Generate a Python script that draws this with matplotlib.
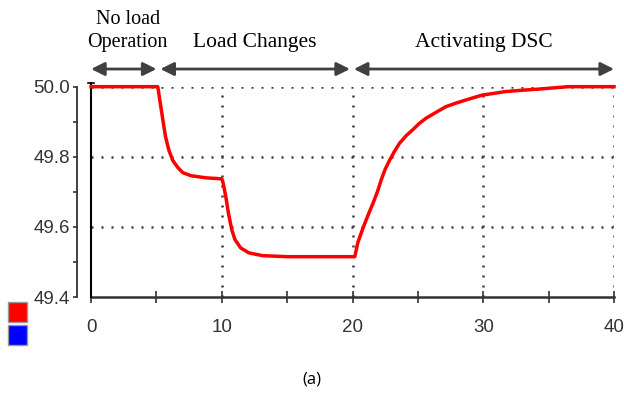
import matplotlib.pyplot as plt

# frequency response (time in s, frequency in Hz)
t = [0, 5.1, 5.29, 5.49, 5.69, 5.94, 6.24, 6.62, 7.0, 7.64, 8.78, 10.0,
     10.1, 10.3, 10.5, 10.76, 11.0, 11.44, 12.07, 13.1, 15.0, 20.17,
     20.4, 20.8, 21.2, 21.57, 21.9, 22.2, 22.5, 22.83, 23.2, 23.6, 24.1, 24.6,
     25.1, 25.62, 26.3, 27.14, 27.9, 28.66, 29.92, 31.7, 33.0, 34.2, 36.5, 40.0]
f = [50.0, 50.0, 49.953, 49.905, 49.858, 49.82, 49.79, 49.77, 49.755, 49.746, 49.74, 49.737,
     49.725, 49.687, 49.64, 49.592, 49.564, 49.54, 49.526, 49.518, 49.515, 49.515,
     49.555, 49.597, 49.635, 49.668, 49.70, 49.735, 49.765, 49.79, 49.815, 49.839, 49.86, 49.877,
     49.895, 49.91, 49.925, 49.943, 49.953, 49.962, 49.976, 49.986, 49.99, 49.993, 50.0, 50.0]

y_ticks = [49.4, 49.6, 49.8, 50.0]
x_ticks = [0, 10, 20, 30, 40]
stages = ["No load\nOperation", "Load Changes", "Activating DSC"]
stage_bounds = [(0, 5), (5.3, 19.8), (20.1, 40)]

fig = plt.figure(figsize=(6.24, 4.0), dpi=100)
ax = fig.add_axes([0.146, 0.2575, 0.838, 0.5258])

ax.plot(t, f, color="red", lw=2.5, clip_on=False, zorder=5)

ax.set_xlim(0, 40)
ax.set_ylim(49.4, 50.0)

# dotted grid
for gx in [10, 20, 30, 40]:
    ax.axvline(gx, color="#3a3a3a", lw=1.8, ls=(0, (0.8, 3.2)), zorder=1)
for gy in [49.6, 49.8, 50.0]:
    ax.axhline(gy, color="#3a3a3a", lw=1.8, ls=(0, (0.8, 3.2)), zorder=1)

# main vertical axis line with a small cap on top
ax.plot([0, 0], [49.4, 50.01], color="black", lw=1.5, clip_on=False, zorder=4)
ax.plot([-0.25, 0.25], [50.01, 50.01], color="black", lw=1.2, clip_on=False, zorder=4)

for s in ["top", "right"]:
    ax.spines[s].set_visible(False)
ax.spines["left"].set_position(("outward", 10))
ax.spines["left"].set_color("#333333")
ax.spines["left"].set_linewidth(1.3)
ax.spines["bottom"].set_color("#333333")
ax.spines["bottom"].set_linewidth(1.8)

ax.set_yticks(y_ticks)
ax.set_yticklabels([f"{v:.1f}" for v in y_ticks])
ax.set_yticks([49.5, 49.7, 49.9], minor=True)
ax.set_xticks(x_ticks)
ax.set_xticks([5, 15, 25, 35], minor=True)

ax.tick_params(axis="y", which="both", direction="out", length=3, width=1.2,
               color="#333333", pad=2, labelsize=13.5, labelcolor="#333333")
ax.tick_params(axis="x", which="both", direction="inout", length=8, width=1.2,
               color="#333333", pad=12, labelsize=13.5, labelcolor="#333333")
for lab in ax.get_xticklabels() + ax.get_yticklabels():
    lab.set_fontfamily("Liberation Sans")

# stage arrows and labels
for (a, b), name in zip(stage_bounds, stages):
    ax.annotate("", xy=(a, 1.084), xytext=(b, 1.084),
                xycoords=("data", "axes fraction"), textcoords=("data", "axes fraction"),
                arrowprops=dict(arrowstyle="<|-|>,head_length=0.8,head_width=0.4",
                                color="#404040", lw=2, shrinkA=0, shrinkB=0),
                annotation_clip=False)
    ty = 1.21 if "\n" not in name else 1.265
    ax.text((a + b) / 2 + (0.3 if "\n" in name else 0), ty, name,
            transform=ax.get_xaxis_transform(), ha="center", va="center",
            fontsize=15.5 if "\n" not in name else 14.5, family="Liberation Serif",
            linespacing=1.3)

# small colour keys at bottom left
fig.patches.append(plt.Rectangle((8 / 624, 1 - 322 / 400), 19 / 624, 20 / 400,
                                 transform=fig.transFigure, facecolor="red",
                                 edgecolor="#999999", lw=1))
fig.patches.append(plt.Rectangle((8 / 624, 1 - 345 / 400), 19 / 624, 20 / 400,
                                 transform=fig.transFigure, facecolor="blue",
                                 edgecolor="#999999", lw=1))

fig.text(312 / 624, 1 - 380 / 400, "(a)", ha="center", va="center",
         fontsize=12, family="Open Sans")

fig.savefig("out.png", dpi=100)
